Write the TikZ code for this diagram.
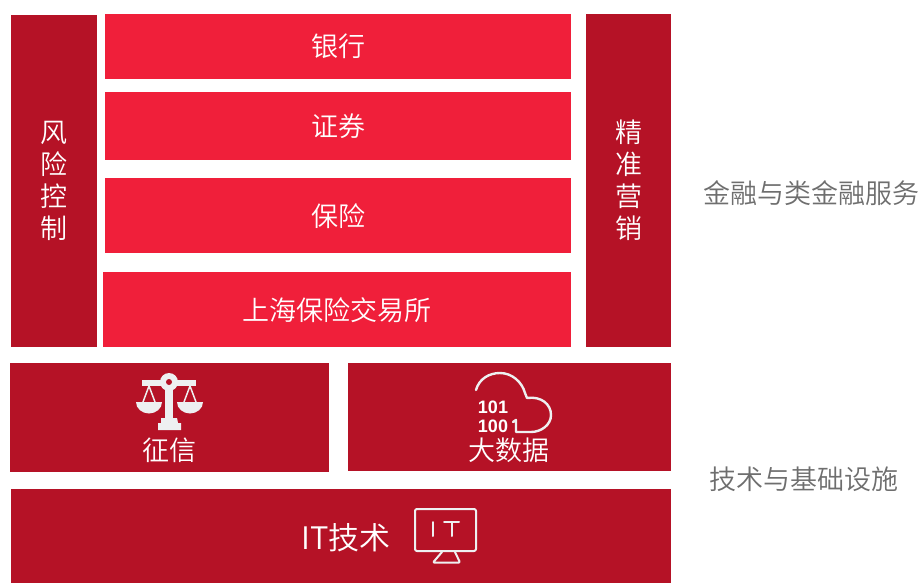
\documentclass[tikz,border=0pt]{standalone}
\usepackage{fontspec}
\setmainfont{Noto Sans CJK SC DemiLight}
\newfontfamily\bitfont{Liberation Sans}
\definecolor{lightred}{HTML}{F01F3A}
\definecolor{darkred}{HTML}{B51226}
\definecolor{sidegray}{HTML}{6E6E6E}
\definecolor{iconwhite}{HTML}{EEF0F1}
\tikzset{
  block/.style={anchor=north west,inner sep=0pt,text=white,align=center,font=\fontsize{27pt}{32pt}\selectfont},
  lightblock/.style={block,fill=lightred},
  darkblock/.style={block,fill=darkred},
  blocklabel/.style={text=white,inner sep=0pt,font=\fontsize{27pt}{32pt}\selectfont},
  sidetext/.style={text=sidegray,font=\fontsize{27pt}{32pt}\selectfont,inner sep=0pt},
  bits/.style={text=white,inner sep=0pt,font=\bitfont\bfseries\fontsize{18pt}{18pt}\selectfont},
  iconline/.style={draw=iconwhite,line width=2pt,line cap=round,line join=round}
}
\begin{document}
\begin{tikzpicture}[x=1pt,y=-1pt]
    \useasboundingbox (0,0) rectangle (920,583);
    \node[darkblock,minimum width=86,minimum height=332,text width=86] (risk) at (11,15) {风\\险\\控\\制};
    \node[lightblock,minimum width=466,minimum height=65] (bank) at (105,14) {银行};
    \node[lightblock,minimum width=466,minimum height=68] (sec) at (105,92) {证券};
    \node[lightblock,minimum width=466,minimum height=75] (ins) at (105,178) {保险};
    \node[lightblock,minimum width=468,minimum height=75] (exch) at (103,272) {上海保险交易所};
    \node[darkblock,minimum width=85,minimum height=333,text width=85] (mkt) at (586,14) {精\\准\\营\\销};
    \node[darkblock,minimum width=319,minimum height=109] (credit) at (10,363) {};
    \node[darkblock,minimum width=323,minimum height=108] (data) at (348,363) {};
    \node[darkblock,minimum width=660,minimum height=94] (it) at (11,489) {};
    \node[blocklabel] (creditlabel) at (169,450) {征信};
    \node[blocklabel] (datalabel) at (509,450) {大数据};
    \node[blocklabel,font=\fontsize{31pt}{32pt}\selectfont] (itlabel) at (346,538) {IT技术};
    \node[sidetext] (fin) at (811.5,193) {金融与类金融服务};
    \node[sidetext] (tech) at (804,479) {技术与基础设施};
    % scales
    \fill[iconwhite] (142,380) rectangle (196,385.5);
    \fill[iconwhite] (169,382) circle (9);
    \fill[darkred] (169,382) circle (3);
    \fill[iconwhite] (165,390) rectangle (173,418);
    \fill[iconwhite] (161,418) -- (177,418) -- (178,423) -- (181,423) -- (181,430) -- (158,430) -- (158,423) -- (161,423) -- cycle;
    \draw[iconline,line width=1.5pt] (149,386) -- (143,402) (149,386) -- (155,402);
    \draw[iconline,line width=1.5pt] (190,386) -- (184,402) (190,386) -- (196,402);
    \fill[iconwhite] (136,402) arc (180:0:13 and 11.5) -- cycle;
    \fill[iconwhite] (177,402) arc (180:0:13 and 11.5) -- cycle;
    % cloud
    \draw[iconline,line width=2.4pt] (476,390) .. controls (479,379) and (489,373) .. (500,373) .. controls (512,373) and (522,382) .. (525,393) -- (527,398) .. controls (541,396) and (551,404) .. (551,415) .. controls (551,425) and (541,432) .. (531,432) -- (516,432) -- (516,420) -- (513,422);
    \node[bits] (bitsa) at (493,407) {101};
    \node[bits] (bitsb) at (493,426) {100};
    % monitor
    \draw[iconline,rounded corners=2pt] (415,509) rectangle (476,551);
    \draw[iconline] (433,522) -- (433,536) (444,522) -- (459,522) (452,522) -- (452,536);
    \draw[iconline,rounded corners=1pt] (442,552) -- (433,562.5) -- (460,562.5) -- (455,552);
\end{tikzpicture}
\end{document}
